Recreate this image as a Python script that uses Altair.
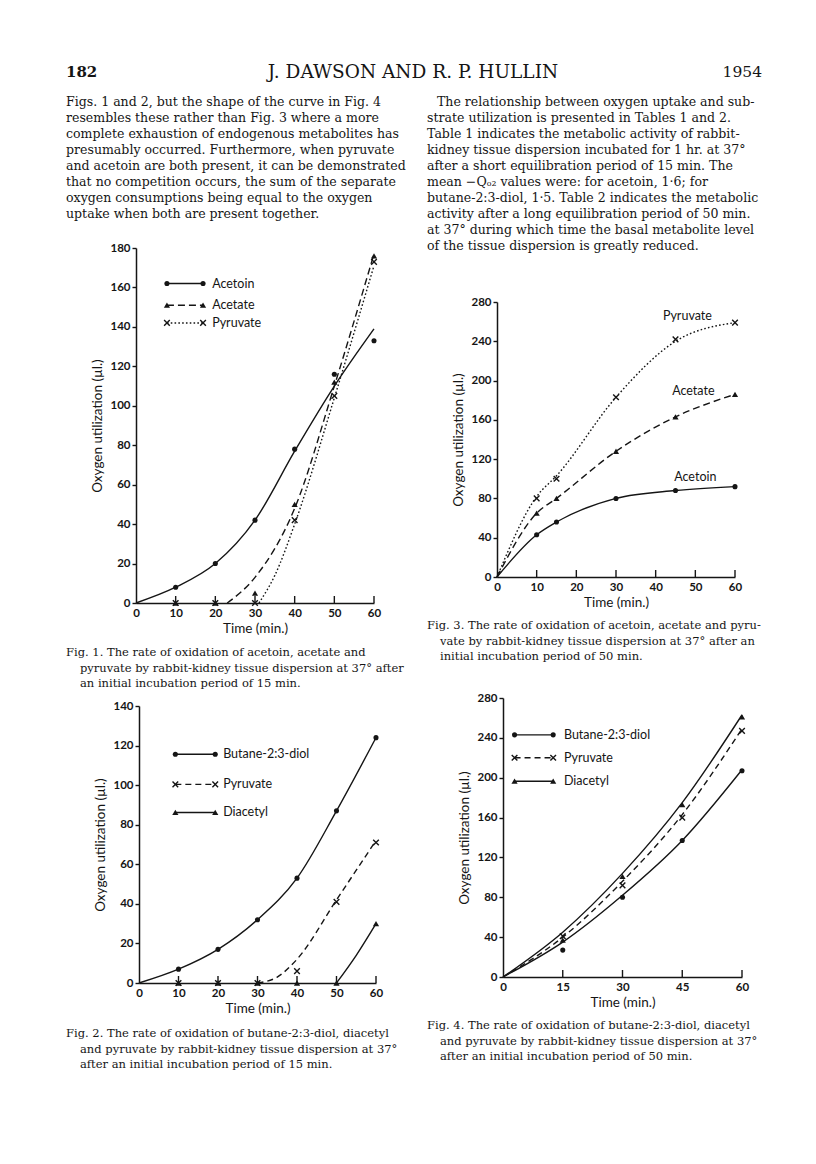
import altair as alt
import pandas as pd

W, H = 800, 1148
INK = "#151515"
XPATH = "M-1,-1L1,1M-1,1L1,-1"

# ---------------- data ----------------
# Fig. 1
F1_T = [10, 20, 30, 40, 50, 60]
F1_ACETOIN = [8, 20, 42, 78, 116, 133]
F1_ACETATE = [0, 0, 5, 50, 112, 176]
F1_PYRUVATE = [0, 0, 0, 42, 105, 173]
F1_ACETOIN_CT = [0, 10, 20, 30, 40, 50, 60]
F1_ACETOIN_C = [0, 8, 20, 42, 77, 110, 139]
F1_ACETATE_CT = [23, 30, 40, 50, 60]
F1_ACETATE_C = [0, 13, 48, 110, 177]
F1_PYRUVATE_CT = [31, 35, 40, 50, 60]
F1_PYRUVATE_C = [0, 14, 40, 104, 171]
F1_LEGEND = ["Acetoin", "Acetate", "Pyruvate"]
F1_YTICKS = [0, 20, 40, 60, 80, 100, 120, 140, 160, 180]

# Fig. 3
F3_T = [10, 15, 30, 45, 60]
F3_ACETOIN = [43, 56, 80, 88, 92]
F3_ACETATE = [65, 80, 128, 163, 186]
F3_PYRUVATE = [80, 100, 183, 242, 259]
F3_CT = [0, 10, 15, 30, 45, 60]
F3_ACETOIN_C = [0, 43, 56, 80, 88, 92]
F3_ACETATE_C = [0, 65, 80, 128, 163, 186]
F3_PYRUVATE_C = [0, 82, 103, 183, 240, 259]
F3_LABELS = ["Pyruvate", "Acetate", "Acetoin"]
F3_YTICKS = [0, 40, 80, 120, 160, 200, 240, 280]

# Fig. 2
F2_T = [10, 20, 30, 40, 50, 60]
F2_DIOL = [7, 17, 32, 53, 87, 124]
F2_PYRUVATE = [0, 0, 0, 6, 41, 71]
F2_DIACETYL = [0, 0, 0, 0, 0, 30]
F2_DIOL_CT = [0, 10, 20, 30, 40, 50, 60]
F2_DIOL_C = [0, 7, 17, 32, 53, 87, 124]
F2_PYRUVATE_CT = [30, 35, 40, 50, 60]
F2_PYRUVATE_C = [0, 3, 12, 42, 72]
F2_DIACETYL_CT = [50, 55, 60]
F2_DIACETYL_C = [0, 14, 30]
F2_LEGEND = ["Butane-2:3-diol", "Pyruvate", "Diacetyl"]
F2_YTICKS = [0, 20, 40, 60, 80, 100, 120, 140]

# Fig. 4
F4_T = [15, 30, 45, 60]
F4_DIOL = [27, 80, 137, 207]
F4_PYRUVATE = [41, 92, 160, 247]
F4_DIACETYL = [37, 101, 173, 261]
F4_CT = [0, 15, 30, 45, 60]
F4_DIOL_C = [0, 35, 82, 137, 208]
F4_PYRUVATE_C = [0, 40, 96, 163, 249]
F4_DIACETYL_C = [0, 45, 104, 175, 263]
F4_LEGEND = ["Butane-2:3-diol", "Pyruvate", "Diacetyl"]
F4_YTICKS = [0, 40, 80, 120, 160, 200, 240, 280]

X_LABELS_10 = [0, 10, 20, 30, 40, 50, 60]
X_TICKS_10 = [10, 20, 30, 40, 50, 60]
X_LABELS_15 = [0, 15, 30, 45, 60]
X_TICKS_15 = [15, 30, 45, 60]

# ---------------- text ----------------
HEAD_LEFT = "182"
HEAD_MID = "J. DAWSON AND R. P. HULLIN"
HEAD_RIGHT = "1954"
LEFT_PARA = [
    "Figs. 1 and 2, but the shape of the curve in Fig. 4",
    "resembles these rather than Fig. 3 where a more",
    "complete exhaustion of endogenous metabolites has",
    "presumably occurred.  Furthermore, when pyruvate",
    "and acetoin are both present, it can be demonstrated",
    "that no competition occurs, the sum of the separate",
    "oxygen consumptions being equal to the oxygen",
    "uptake when both are present together.",
]
RIGHT_PARA_FIRST = ["The relationship between oxygen uptake and sub-"]
RIGHT_PARA = [
    "strate utilization is presented in Tables 1 and 2.",
    "Table 1 indicates the metabolic activity of rabbit-",
    "kidney tissue dispersion incubated for 1 hr. at 37°",
    "after a short equilibration period of 15 min. The",
    "mean  −Qₒ₂  values were: for acetoin, 1·6; for",
    "butane-2:3-diol, 1·5. Table 2 indicates the metabolic",
    "activity after a long equilibration period of 50 min.",
    "at 37° during which time the basal metabolite level",
    "of the tissue dispersion is greatly reduced.",
]
CAP1 = ["Fig. 1. The rate of oxidation of acetoin, acetate and",
        "pyruvate by rabbit-kidney tissue dispersion at 37° after",
        "an initial incubation period of 15 min."]
CAP3 = ["Fig. 3.  The rate of oxidation of acetoin, acetate and pyru-",
        "vate by rabbit-kidney tissue dispersion at 37° after an",
        "initial incubation period of 50 min."]
CAP2 = ["Fig. 2.  The rate of oxidation of butane-2:3-diol, diacetyl",
        "and pyruvate by rabbit-kidney tissue dispersion at 37°",
        "after an initial incubation period of 15 min."]
CAP4 = ["Fig. 4.  The rate of oxidation of butane-2:3-diol, diacetyl",
        "and pyruvate by rabbit-kidney tissue dispersion at 37°",
        "after an initial incubation period of 50 min."]
YTITLE = "Oxygen utilization (µl.)"
XTITLE = "Time (min.)"

SERIF = "DejaVu Serif"
SANS = "Lato"


def make_axes(xpx, ypx, xlabels, ylabels):
    xa = alt.Axis(orient="bottom", offset=ypx - H, values=xlabels, ticks=False,
                  grid=False, title=XTITLE, labelFont=SANS, labelFontSize=11.5,
                  labelFontWeight="bold", labelColor=INK, labelPadding=4,
                  labelFlush=False, labelOverlap=False, domainColor=INK,
                  domainWidth=1.5, titleFont=SANS, titleFontSize=13.5,
                  titleFontWeight="normal", titleColor=INK, titlePadding=3)
    ya = alt.Axis(orient="left", offset=-xpx, values=ylabels, ticks=True,
                  tickSize=4, tickColor=INK, tickWidth=1.4, grid=False,
                  title=YTITLE, labelFont=SANS, labelFontSize=11.5,
                  labelFontWeight="bold", labelColor=INK, labelPadding=2,
                  labelFlush=False, labelOverlap=False, domainColor=INK,
                  domainWidth=1.5, titleFont=SANS, titleFontSize=13.5,
                  titleFontWeight="normal", titleColor=INK, titlePadding=5)
    return xa, ya


def marker(df, shape, X, Y):
    if shape == "dot":
        m = alt.Chart(df).mark_point(shape="circle", filled=True, size=26, color=INK, opacity=1)
    elif shape == "tri":
        m = alt.Chart(df).mark_point(shape="triangle-up", filled=True, size=38, color=INK, opacity=1)
    else:
        m = alt.Chart(df).mark_point(shape=XPATH, filled=False, size=32, color=INK,
                                     strokeWidth=1.4, opacity=1)
    return m.encode(x=X, y=Y)


def figure(xrange, yrange, ymax, xlabels, xticks, ylabels, curves, points, legend=None, tags=None):
    xs = alt.Scale(domain=[0, 60], range=xrange, nice=False, zero=False)
    ys = alt.Scale(domain=[0, ymax], range=yrange, nice=False, zero=False)
    xa, ya = make_axes(xrange[0], yrange[0], xlabels, ylabels)
    X = alt.X("x:Q", scale=xs, axis=xa)
    Y = alt.Y("y:Q", scale=ys, axis=ya)
    layers = []
    for (ct, cv, dash) in curves:
        kw = dict(color=INK, strokeWidth=1.4, interpolate="monotone")
        if dash:
            kw["strokeDash"] = dash
        layers.append(alt.Chart(pd.DataFrame({"x": ct, "y": cv})).mark_line(**kw).encode(x=X, y=Y))
    for (pt, pv, shape) in points:
        layers.append(marker(pd.DataFrame({"x": pt, "y": pv}), shape, X, Y))
    # inward x ticks
    layers.append(alt.Chart(pd.DataFrame({"x": xticks, "y": [0] * len(xticks)})).mark_tick(
        orient="vertical", size=7, thickness=1.4, color=INK, yOffset=-3.5, opacity=1).encode(x=X, y=Y))
    if legend:
        labels, x0, x1, xl, rows, styles = legend
        for lab, yv, (dash, shape) in zip(labels, rows, styles):
            seg = pd.DataFrame({"x": [x0, x1], "y": [yv, yv]})
            kw = dict(color=INK, strokeWidth=1.4)
            if dash:
                kw["strokeDash"] = dash
            layers.append(alt.Chart(seg).mark_line(**kw).encode(x=X, y=Y))
            layers.append(marker(seg, shape, X, Y))
            layers.append(alt.Chart(pd.DataFrame({"x": [xl], "y": [yv], "t": [lab]})).mark_text(
                align="left", baseline="middle", font=SANS, fontSize=12.5, color=INK).encode(
                x=X, y=Y, text="t:N"))
    if tags:
        labels, txs, tys = tags
        layers.append(alt.Chart(pd.DataFrame({"x": txs, "y": tys, "t": labels})).mark_text(
            align="center", baseline="middle", font=SANS, fontSize=12.5, color=INK).encode(
            x=X, y=Y, text="t:N"))
    return alt.layer(*layers)


DASH = [7, 4]
DOT = [1.6, 2.2]

fig1 = figure([128, 366], [595, 240], 180, X_LABELS_10, X_TICKS_10, F1_YTICKS,
              [(F1_ACETOIN_CT, F1_ACETOIN_C, None), (F1_ACETATE_CT, F1_ACETATE_C, DASH),
               (F1_PYRUVATE_CT, F1_PYRUVATE_C, DOT)],
              [(F1_T, F1_ACETOIN, "dot"), (F1_T, F1_ACETATE, "tri"), (F1_T, F1_PYRUVATE, "x")],
              legend=(F1_LEGEND, 7.8, 16.9, 19.2, [162, 151, 142],
                      [(None, "dot"), (DASH, "tri"), (DOT, "x")]))

fig3 = figure([489, 727], [569, 294], 280, X_LABELS_10, X_TICKS_10, F3_YTICKS,
              [(F3_CT, F3_ACETOIN_C, None), (F3_CT, F3_ACETATE_C, DASH), (F3_CT, F3_PYRUVATE_C, DOT)],
              [(F3_T, F3_ACETOIN, "dot"), (F3_T, F3_ACETATE, "tri"), (F3_T, F3_PYRUVATE, "x")],
              tags=(F3_LABELS, [48, 49.5, 50], [266, 189, 102]))

fig2 = figure([131, 368], [975, 698], 140, X_LABELS_10, X_TICKS_10, F2_YTICKS,
              [(F2_DIOL_CT, F2_DIOL_C, None), (F2_PYRUVATE_CT, F2_PYRUVATE_C, [6, 4]),
               (F2_DIACETYL_CT, F2_DIACETYL_C, None)],
              [(F2_T, F2_DIOL, "dot"), (F2_T, F2_PYRUVATE, "x"), (F2_T, F2_DIACETYL, "tri")],
              legend=(F2_LEGEND, 9.2, 19.3, 21.3, [115.6, 100.4, 86.2],
                      [(None, "dot"), ([6, 4], "x"), (None, "tri")]))

fig4 = figure([495, 734], [969, 690], 280, X_LABELS_15, X_TICKS_15, F4_YTICKS,
              [(F4_CT, F4_DIOL_C, None), (F4_CT, F4_PYRUVATE_C, [6, 4]), (F4_CT, F4_DIACETYL_C, None)],
              [(F4_T, F4_DIOL, "dot"), (F4_T, F4_PYRUVATE, "x"), (F4_T, F4_DIACETYL, "tri")],
              legend=(F4_LEGEND, 2.9, 12.6, 15.3, [243, 220, 196.5],
                      [(None, "dot"), ([6, 4], "x"), (None, "tri")]))


def text_block(lines, x, y, size, lh, align="left", weight="normal", font=SERIF):
    return alt.Chart(pd.DataFrame({"k": [0]})).mark_text(
        align=align, baseline="alphabetic", font=font, fontSize=size, lineHeight=lh,
        color=INK, fontWeight=weight).encode(
        x=alt.value(x), y=alt.value(y), text=alt.value(lines))


BODY = 12.55
CAP = 11.5
texts = [
    text_block([HEAD_LEFT], 58, 69, 15, 16, weight="bold"),
    text_block([HEAD_MID], 405, 70, 18.5, 16, align="center"),
    text_block([HEAD_RIGHT], 754, 69, 15.5, 16, align="right"),
    text_block(LEFT_PARA, 58, 97.5, BODY, 16),
    text_block(RIGHT_PARA_FIRST, 429, 97.5, BODY, 16),
    text_block(RIGHT_PARA, 419, 113.5, BODY, 16),
    text_block(CAP1[:1], 58, 648, CAP, 15.5),
    text_block(CAP1[1:], 72, 663.5, CAP, 15.5),
    text_block(CAP3[:1], 419, 621, CAP, 15.5),
    text_block(CAP3[1:], 432, 636.5, CAP, 15.5),
    text_block(CAP2[:1], 58, 1029, CAP, 15.5),
    text_block(CAP2[1:], 72, 1044.5, CAP, 15.5),
    text_block(CAP4[:1], 419, 1021, CAP, 15.5),
    text_block(CAP4[1:], 432, 1036.5, CAP, 15.5),
]

chart = alt.layer(fig1, fig3, fig2, fig4, *texts).resolve_scale(
    x="independent", y="independent").resolve_axis(
    x="independent", y="independent").properties(
    width=W, height=H, padding=0, autosize=alt.AutoSizeParams(type="none")
).configure_view(stroke=None)

chart.save("out.html", embed_options={"renderer": "svg", "actions": False})
